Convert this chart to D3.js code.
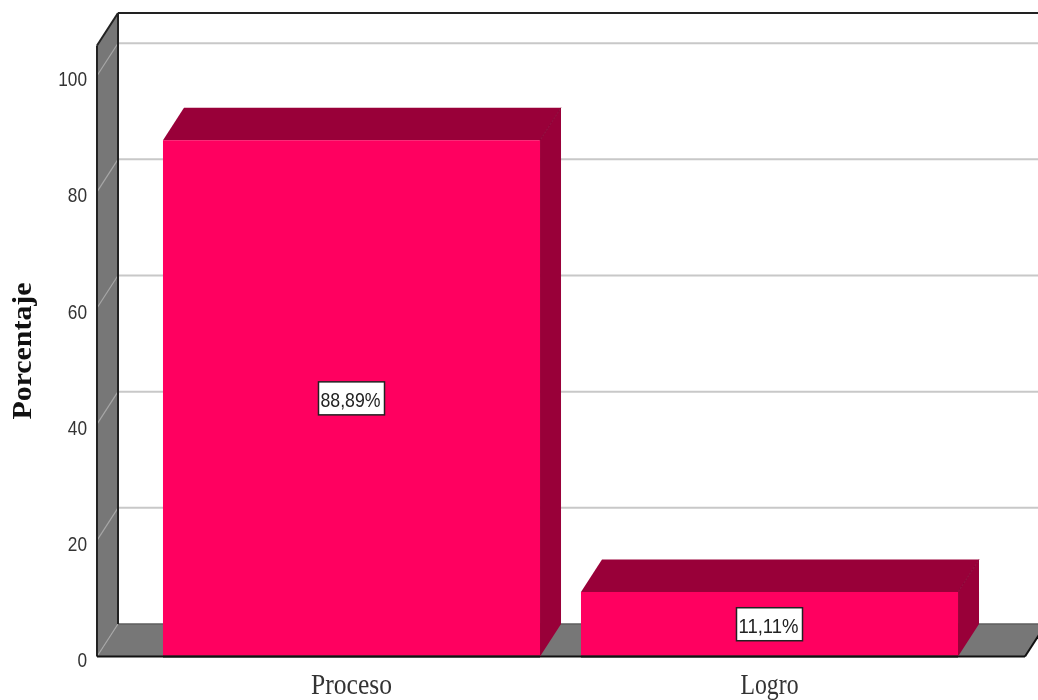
<!DOCTYPE html>
<html><head><meta charset="utf-8">
<script src="https://cdn.jsdelivr.net/npm/d3@7"></script>
<style>html,body{margin:0;padding:0;background:#fff}svg{display:block;filter:blur(0.4px)}</style>
</head><body><div id="chart"></div>
<script>
const categories = ["Proceso", "Logro"];
const values = [88.89, 11.11];
const valueLabels = ["88,89%", "11,11%"];
const yTicks = [0, 20, 40, 60, 80, 100];
const yTitle = "Porcentaje";

const W = 1038, H = 700, dx = 21, dy = -32.5;
const y = d3.scaleLinear().domain([0, 105.2]).range([656.5, 45.5]);
const x = d3.scaleBand().domain(categories).range([142.5, 978.5]).paddingInner(0.098).paddingOuter(0.049);
const wallLeft = 97, wallRight = 1025;

const svg = d3.select("#chart").append("svg").attr("width", W).attr("height", H);
const line = d3.line();
const poly = (g, pts, fill) => g.append("path").attr("d", line(pts) + "Z").attr("fill", fill);
const seg = (g, a, b, col, w) => g.append("line").attr("x1", a[0]).attr("y1", a[1]).attr("x2", b[0]).attr("y2", b[1]).attr("stroke", col).attr("stroke-width", w);

const y0 = y(0), yt = y(y.domain()[1]);
// walls
const walls = svg.append("g");
poly(walls, [[wallLeft, yt], [wallLeft + dx, yt + dy], [wallLeft + dx, y0 + dy], [wallLeft, y0]], "#777777");
poly(walls, [[wallLeft, y0], [wallLeft + dx, y0 + dy], [wallRight + dx, y0 + dy], [wallRight, y0]], "#777777");
// gridlines
const grid = svg.append("g");
yTicks.forEach(t => {
  if (t > 0) seg(grid, [wallLeft + dx, y(t) + dy], [W, y(t) + dy], "#c8c8c8", 2);
  seg(grid, [wallLeft, y(t)], [wallLeft + dx, y(t) + dy], "#a6a6a6", 1.2);
});
// frame
const frame = svg.append("g");
seg(frame, [wallLeft + dx, y0 + dy], [W, y0 + dy], "#5e5e5e", 1.5);
seg(frame, [wallLeft + dx, yt + dy], [W, yt + dy], "#222", 2);
seg(frame, [wallLeft + dx, yt + dy], [wallLeft + dx, y0 + dy], "#222", 2);
seg(frame, [wallLeft, yt], [wallLeft + dx, yt + dy], "#222", 2);
seg(frame, [wallLeft, yt], [wallLeft, y0], "#222", 2);
seg(frame, [wallLeft, y0], [wallRight, y0], "#111", 2);
seg(frame, [wallRight, y0], [wallRight + dx, y0 + dy], "#111", 2);

// bars
const bars = svg.append("g").selectAll("g").data(categories).join("g");
bars.each(function (c, i) {
  const g = d3.select(this), x0 = x(c), x1 = x0 + x.bandwidth(), yv = y(values[i]);
  poly(g, [[x0, yv], [x0 + dx, yv + dy], [x1 + dx, yv + dy], [x1, yv]], "#990039");
  poly(g, [[x1, yv], [x1 + dx, yv + dy], [x1 + dx, y0 + dy], [x1, y0]], "#990039");
  g.append("rect").attr("x", x0).attr("y", yv).attr("width", x.bandwidth()).attr("height", y0 - yv - 1).attr("fill", "#ff0060");
  seg(g, [x1, yv], [x1 + dx, yv + dy], "#8a0034", 1);
  seg(g, [x0, y0], [x1, y0], "#111", 2);
  const cx = x0 + x.bandwidth() / 2, cy = y(values[i] / 2);
  g.append("rect").attr("x", cx - 33).attr("y", cy - 16.5).attr("width", 66).attr("height", 33)
    .attr("fill", "#fff").attr("stroke", "#222").attr("stroke-width", 1.5);
  g.append("text").attr("x", cx - 1).attr("y", cy + 8.5).attr("text-anchor", "middle")
    .attr("font-family", "Liberation Sans").attr("font-size", 21)
    .attr("textLength", 60).attr("lengthAdjust", "spacingAndGlyphs").attr("fill", "#222").text(valueLabels[i]);
});

// y tick labels
svg.append("g").selectAll("text").data(yTicks).join("text")
  .attr("x", 87).attr("y", d => y(d) + 10.5).attr("text-anchor", "end")
  .attr("font-family", "Liberation Sans").attr("font-size", 21).attr("fill", "#333")
  .attr("textLength", d => String(d).length * 9.6).attr("lengthAdjust", "spacingAndGlyphs")
  .text(d => d);

// x labels
const xw = [81, 58];
svg.append("g").selectAll("text").data(categories).join("text")
  .attr("x", d => x(d) + x.bandwidth() / 2).attr("y", 693.5).attr("text-anchor", "middle")
  .attr("font-family", "Liberation Serif").attr("font-size", 29).attr("fill", "#333")
  .attr("textLength", (d, i) => xw[i]).attr("lengthAdjust", "spacingAndGlyphs").text(d => d);

// y title
svg.append("text").attr("transform", "translate(30.5,351) rotate(-90)").attr("text-anchor", "middle")
  .attr("font-family", "Liberation Serif").attr("font-weight", "bold").attr("font-size", 27).attr("fill", "#111")
  .attr("textLength", 137).attr("lengthAdjust", "spacingAndGlyphs").text(yTitle);
</script></body></html>
